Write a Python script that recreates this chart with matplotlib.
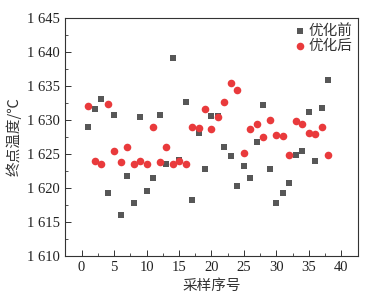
import matplotlib
matplotlib.use("Agg")
import matplotlib.pyplot as plt
from matplotlib.ticker import MultipleLocator, FuncFormatter

samples = list(range(1, 39))
before = [1628.9, 1631.6, 1633.1, 1619.3, 1630.7, 1616.0, 1621.8, 1617.8, 1630.4, 1619.5,
          1621.4, 1630.8, 1623.6, 1639.1, 1624.1, 1632.6, 1618.3, 1628.1, 1622.8, 1630.6,
          1630.6, 1626.1, 1624.7, 1620.3, 1623.2, 1621.4, 1626.7, 1632.2, 1622.8, 1617.8,
          1619.2, 1620.8, 1624.8, 1625.4, 1631.2, 1623.9, 1631.8, 1635.9]
after = [1632.1, 1623.9, 1623.6, 1632.4, 1625.4, 1623.8, 1626.1, 1623.6, 1624.0, 1623.6,
         1629.0, 1623.8, 1626.1, 1623.6, 1624.0, 1623.6, 1629.0, 1628.8, 1631.6, 1628.7,
         1630.4, 1632.7, 1635.4, 1634.4, 1625.2, 1628.7, 1629.4, 1627.5, 1630.0, 1627.8,
         1627.7, 1624.8, 1629.9, 1629.4, 1628.1, 1627.9, 1628.9, 1624.9]
labels = ["优化前", "优化后"]
xlabel = "采样序号"
ylabel = "终点温度/℃"

cjk = ["Noto Sans CJK SC", "DejaVu Sans"]
serif = "Liberation Serif"

fig = plt.figure(figsize=(3.69, 3.02), dpi=100)
ax = fig.add_axes([65/369, 1 - 256/302, (358-65)/369, (256-18)/302])

ax.scatter(samples, before, marker="s", s=22, color="#575757", label=labels[0], zorder=3, linewidths=0)
ax.scatter(samples, after, marker="o", s=30, color="#e93a3c", label=labels[1], zorder=3, linewidths=0)

ax.set_xlim(-2.56, 42.56)
ax.set_ylim(1610, 1645)
ax.xaxis.set_major_locator(MultipleLocator(5))
ax.xaxis.set_minor_locator(MultipleLocator(2.5))
ax.yaxis.set_major_locator(MultipleLocator(5))
ax.yaxis.set_minor_locator(MultipleLocator(2.5))
ax.yaxis.set_major_formatter(FuncFormatter(lambda v, p: f"{int(v)//1000} {int(v)%1000:03d}"))
ax.tick_params(which="both", direction="in", top=False, right=False, labelsize=10.5, color="#333333")
ax.tick_params(which="major", length=4, width=0.7)
ax.tick_params(which="minor", length=2.5, width=0.6)
for lab in ax.get_xticklabels() + ax.get_yticklabels():
    lab.set_fontfamily(serif)
    lab.set_color("#222222")
for sp in ax.spines.values():
    sp.set_linewidth(0.8)
    sp.set_color("#333333")

ax.set_xlabel(xlabel, fontfamily=cjk, fontsize=10.5, color="#333333", labelpad=4)
ax.set_ylabel(ylabel, fontfamily=cjk, fontsize=10.5, color="#333333", labelpad=4)

leg = ax.legend(loc="upper right", frameon=False, prop={"family": cjk, "size": 10.5},
                handletextpad=0.1, borderaxespad=0.2, labelspacing=0.1, handlelength=1.0,
                borderpad=0.2)
for t in leg.get_texts():
    t.set_color("#333333")

fig.savefig("out.png", dpi=100)
